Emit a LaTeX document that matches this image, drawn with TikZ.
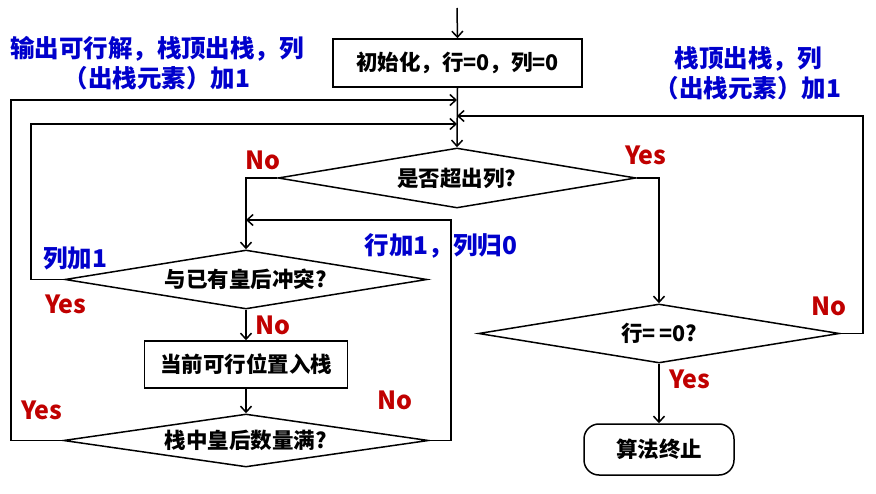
\documentclass[tikz,border=0pt]{standalone}
\usepackage{fontspec}
\setmainfont{Noto Sans CJK SC}
\usetikzlibrary{shapes.geometric,arrows.meta}
\definecolor{lblue}{RGB}{0,0,204}
\definecolor{lred}{RGB}{192,0,0}
\begin{document}
\begin{tikzpicture}[x=1pt,y=-1pt,
  every node/.style={inner sep=0pt},
  txt/.style={font=\bfseries\fontsize{21.5}{25}\selectfont},
  line/.style={line width=1.5pt, black},
  arr/.style={line, -{Straight Barb[length=6pt,width=11pt]}},
  proc/.style={txt, draw, line width=1.5pt},
  dec/.style={txt, draw, line width=1.5pt, diamond, aspect=7},
  term/.style={txt, draw, line width=1.5pt, rounded corners=15pt},
  bluel/.style={font=\bfseries\fontsize{24.5}{30}\selectfont, text=lblue, align=center},
  redl/.style={font=\bfseries\fontsize{25}{29}\selectfont, text=lred}
]
\useasboundingbox (0,0) rectangle (876,494);

% nodes
\node[proc, minimum width=249pt, minimum height=48pt] (init) at (457.5,63) {初始化，行=0，列=0};
\node[dec, minimum width=358pt, minimum height=60pt] (d1) at (457,178) {是否超出列?};
\node[dec, minimum width=362pt, minimum height=59pt] (d2) at (246,279.5) {与已有皇后冲突?};
\node[proc, minimum width=203pt, minimum height=47pt] (push) at (246,364.5) {当前可行位置入栈};
\node[dec, minimum width=365pt, minimum height=53pt] (d3) at (246,440.5) {栈中皇后数量满?};
\node[dec, minimum width=361pt, minimum height=59pt] (d4) at (659,333.5) {行=\,=0?};
\node[term, minimum width=150pt, minimum height=51pt] (end) at (659,449.5) {算法终止};

% coordinates
\coordinate (start) at (457,8);
\coordinate (j1) at (457,100);
\coordinate (j2) at (457,116);
\coordinate (j3) at (457,124);
\coordinate (cy) at (11,100);
\coordinate (cl) at (31,124);
\coordinate (cn) at (451,220);
\coordinate (cn2) at (246,220);
\coordinate (cr) at (863,116);

% connectors
\draw[arr] (start) -- (init.north);
\draw[arr] (init.south) -- (d1.north);
\draw[arr] (d1.west) -| (d2.north);
\draw[arr] (d2.south) -- (push.north);
\draw[arr] (push.south) -- (d3.north);
\draw[arr] (d2.west) -| (cl) -- (j3);
\draw[arr] (d3.west) -| (cy) -- (j1);
\draw[arr] (d3.east) -| (cn) -- (cn2);
\draw[arr] (d1.east) -| (d4.north);
\draw[arr] (d4.east) -| (cr) -- (j2);
\draw[arr] (d4.south) -- (end.north);

% labels
\node[bluel] (lbl1) at (157,63) {输出可行解，栈顶出栈，列\\（出栈元素）加1};
\node[bluel] (lbl2) at (748,73) {栈顶出栈，列\\（出栈元素）加1};
\node[bluel] (lbl3) at (75,258) {列加1};
\node[bluel] (lbl4) at (441,246) {行加1，列归0};
\node[redl] (r1) at (263,160) {No};
\node[redl] (r2) at (646,155) {Yes};
\node[redl] (r3) at (66,304) {Yes};
\node[redl] (r4) at (273,325) {No};
\node[redl] (r5) at (42,410) {Yes};
\node[redl] (r6) at (395,400) {No};
\node[redl] (r7) at (829,306) {No};
\node[redl] (r8) at (690,379) {Yes};
\end{tikzpicture}
\end{document}
